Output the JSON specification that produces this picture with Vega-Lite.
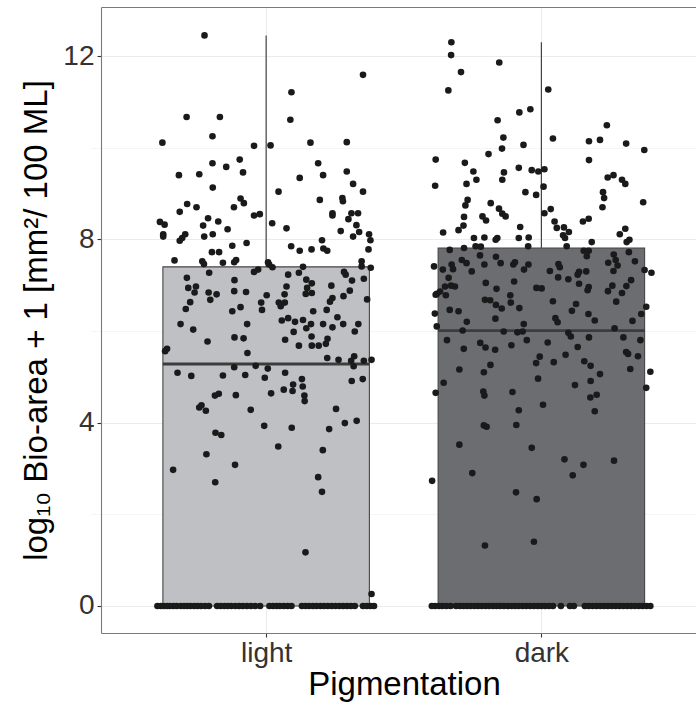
{
  "$schema": "https://vega.github.io/schema/vega-lite/v6.json",
  "width": 595,
  "height": 626,
  "autosize": {"type": "none"},
  "padding": {"left": 101, "top": 7, "right": 0, "bottom": 72},
  "background": "white",
  "config": {
    "view": {"stroke": null},
    "font": "Liberation Sans",
    "axis": {"domainColor": "#7a7a7a", "domainWidth": 1.1, "tickColor": "#333333", "tickWidth": 1.1, "gridColor": "#ebebeb", "gridWidth": 1.1}
  },
  "resolve": {"axis": {"x": "independent", "y": "independent"}},
  "datasets": {
    "summary": [
      {"group": "light", "min": 0, "q1": 0, "median": 5.28, "q3": 7.4, "max": 12.45},
      {"group": "dark", "min": 0, "q1": 0, "median": 6.01, "q3": 7.81, "max": 12.3}
    ],
    "points": [
      {"group":"light","value":12.45,"jitter":-0.224},{"group":"light","value":11.59,"jitter":0.352},{"group":"light","value":11.21,"jitter":0.092},{"group":"light","value":10.67,"jitter":-0.289},{"group":"light","value":10.67,"jitter":-0.168},{"group":"light","value":10.61,"jitter":0.088},{"group":"light","value":10.25,"jitter":-0.195},{"group":"light","value":10.11,"jitter":-0.377},{"group":"light","value":10.04,"jitter":-0.044},{"group":"light","value":10.05,"jitter":0.016},{"group":"light","value":10.11,"jitter":0.161},{"group":"light","value":10.12,"jitter":0.293},{"group":"light","value":9.66,"jitter":-0.195},{"group":"light","value":9.58,"jitter":-0.145},{"group":"light","value":9.74,"jitter":-0.096},{"group":"light","value":9.66,"jitter":0.189},{"group":"light","value":9.48,"jitter":0.293},{"group":"light","value":9.46,"jitter":-0.084},{"group":"light","value":9.42,"jitter":-0.243},{"group":"light","value":9.4,"jitter":-0.317},{"group":"light","value":9.4,"jitter":0.207},
      {"group":"light","value":9.34,"jitter":0.122},{"group":"light","value":9.13,"jitter":-0.194},{"group":"light","value":9.04,"jitter":0.045},{"group":"light","value":9.21,"jitter":0.316},{"group":"light","value":9.04,"jitter":0.352},{"group":"light","value":8.86,"jitter":0.195},{"group":"light","value":8.9,"jitter":0.277},{"group":"light","value":8.83,"jitter":0.279},{"group":"light","value":8.77,"jitter":-0.287},{"group":"light","value":8.7,"jitter":-0.253},{"group":"light","value":8.89,"jitter":-0.093},{"group":"light","value":8.79,"jitter":-0.081},{"group":"light","value":8.7,"jitter":-0.117},{"group":"light","value":8.6,"jitter":-0.314},{"group":"light","value":8.57,"jitter":0.241},{"group":"light","value":8.52,"jitter":0.241},{"group":"light","value":8.57,"jitter":0.31},{"group":"light","value":8.57,"jitter":0.334},{"group":"light","value":8.44,"jitter":0.299},{"group":"light","value":8.46,"jitter":-0.211},{"group":"light","value":8.39,"jitter":-0.174},{"group":"light","value":8.3,"jitter":-0.229},{"group":"light","value":8.38,"jitter":-0.386},{"group":"light","value":8.32,"jitter":-0.369},{"group":"light","value":8.11,"jitter":-0.374},{"group":"light","value":8.06,"jitter":-0.374},{"group":"light","value":8.22,"jitter":-0.14},{"group":"light","value":8.52,"jitter":-0.044},{"group":"light","value":8.55,"jitter":-0.023},{"group":"light","value":8.35,"jitter":0.022},{"group":"light","value":8.24,"jitter":0.074},{"group":"light","value":8.31,"jitter":0.328},{"group":"light","value":8.18,"jitter":0.271},{"group":"light","value":8.06,"jitter":0.316},{"group":"light","value":8.16,"jitter":0.338},{"group":"light","value":8.11,"jitter":0.374},{"group":"light","value":7.98,"jitter":0.379},{"group":"light","value":8.11,"jitter":-0.294},{"group":"light","value":8.03,"jitter":-0.305},{"group":"light","value":7.97,"jitter":-0.314},{"group":"light","value":8.06,"jitter":-0.225},{"group":"light","value":8.11,"jitter":-0.194},{"group":"light","value":7.86,"jitter":-0.123},{"group":"light","value":7.92,"jitter":-0.071},{"group":"light","value":7.98,"jitter":0.203},{"group":"light","value":7.85,"jitter":0.091},{"group":"light","value":7.75,"jitter":0.122},{"group":"light","value":7.78,"jitter":0.165},{"group":"light","value":7.8,"jitter":0.208},{"group":"light","value":7.75,"jitter":0.222},{"group":"light","value":7.78,"jitter":0.372},{"group":"light","value":7.54,"jitter":-0.333},{"group":"light","value":7.72,"jitter":-0.197},{"group":"light","value":7.72,"jitter":-0.171},{"group":"light","value":7.52,"jitter":-0.232},{"group":"light","value":7.46,"jitter":-0.226},{"group":"light","value":7.49,"jitter":-0.157},{"group":"light","value":7.5,"jitter":-0.116},{"group":"light","value":7.55,"jitter":-0.109},{"group":"light","value":7.5,"jitter":0.007},{"group":"light","value":7.45,"jitter":0.011},{"group":"light","value":7.39,"jitter":0.023},{"group":"light","value":7.52,"jitter":0.347},{"group":"light","value":7.41,"jitter":0.347},{"group":"light","value":7.38,"jitter":0.38},{"group":"light","value":7.34,"jitter":-0.029},{"group":"light","value":7.29,"jitter":-0.044},{"group":"light","value":7.27,"jitter":-0.207},{"group":"light","value":7.16,"jitter":-0.288},{"group":"light","value":7.11,"jitter":-0.115},{"group":"light","value":7.23,"jitter":0.08},{"group":"light","value":7.27,"jitter":0.119},{"group":"light","value":7.4,"jitter":0.134},{"group":"light","value":7.12,"jitter":0.146},{"group":"light","value":7.04,"jitter":0.166},{"group":"light","value":6.94,"jitter":0.149},{"group":"light","value":6.83,"jitter":0.166},{"group":"light","value":6.81,"jitter":0.144},{"group":"light","value":7.29,"jitter":0.283},{"group":"light","value":7.23,"jitter":0.289},{"group":"light","value":7.1,"jitter":0.312},{"group":"light","value":7.14,"jitter":0.355},{"group":"light","value":6.99,"jitter":0.237},{"group":"light","value":6.94,"jitter":-0.283},{"group":"light","value":6.97,"jitter":-0.255},{"group":"light","value":6.84,"jitter":-0.26},{"group":"light","value":6.84,"jitter":-0.209},{"group":"light","value":6.8,"jitter":-0.18},{"group":"light","value":6.87,"jitter":-0.116},{"group":"light","value":6.85,"jitter":-0.073},{"group":"light","value":6.97,"jitter":0.074},{"group":"light","value":6.8,"jitter":0.067},{"group":"light","value":6.78,"jitter":0.002},{"group":"light","value":6.88,"jitter":0.304},{"group":"light","value":6.76,"jitter":0.281},{"group":"light","value":6.72,"jitter":0.241},{"group":"light","value":6.64,"jitter":0.232},{"group":"light","value":6.69,"jitter":0.367},{"group":"light","value":6.68,"jitter":-0.203},{"group":"light","value":6.63,"jitter":-0.276},{"group":"light","value":6.48,"jitter":-0.292},{"group":"light","value":6.62,"jitter":-0.018},{"group":"light","value":6.46,"jitter":-0.015},{"group":"light","value":6.62,"jitter":0.046},{"group":"light","value":6.54,"jitter":0.053},{"group":"light","value":6.62,"jitter":0.068},{"group":"light","value":6.52,"jitter":-0.093},{"group":"light","value":6.43,"jitter":-0.123},{"group":"light","value":6.43,"jitter":0.171},{"group":"light","value":6.46,"jitter":0.22},{"group":"light","value":6.3,"jitter":0.259},{"group":"light","value":6.23,"jitter":0.057},{"group":"light","value":6.28,"jitter":0.08},{"group":"light","value":6.2,"jitter":0.105},{"group":"light","value":6.24,"jitter":0.134},{"group":"light","value":6.15,"jitter":-0.311},{"group":"light","value":6.15,"jitter":-0.069},{"group":"light","value":6.15,"jitter":0.163},{"group":"light","value":6.15,"jitter":0.207},{"group":"light","value":6.15,"jitter":0.28},{"group":"light","value":6.15,"jitter":0.335},
      {"group":"light","value":6.03,"jitter":-0.265},{"group":"light","value":5.98,"jitter":0.1},{"group":"light","value":6.06,"jitter":0.146},{"group":"light","value":6.08,"jitter":0.241},{"group":"light","value":5.99,"jitter":0.322},{"group":"light","value":5.77,"jitter":-0.213},{"group":"light","value":5.86,"jitter":-0.115},{"group":"light","value":5.84,"jitter":-0.082},{"group":"light","value":5.81,"jitter":0.069},{"group":"light","value":5.88,"jitter":0.165},{"group":"light","value":5.83,"jitter":0.223},{"group":"light","value":5.72,"jitter":0.217},{"group":"light","value":5.68,"jitter":0.119},{"group":"light","value":5.68,"jitter":0.166},{"group":"light","value":5.68,"jitter":0.191},{"group":"light","value":5.52,"jitter":-0.068},{"group":"light","value":5.56,"jitter":-0.367},{"group":"light","value":5.61,"jitter":-0.36},{"group":"light","value":5.41,"jitter":0.222},{"group":"light","value":5.37,"jitter":0.263},{"group":"light","value":5.35,"jitter":0.309},{"group":"light","value":5.45,"jitter":0.32},{"group":"light","value":5.23,"jitter":0.318},{"group":"light","value":5.35,"jitter":0.355},{"group":"light","value":5.37,"jitter":0.383},{"group":"light","value":5.09,"jitter":-0.322},{"group":"light","value":5.02,"jitter":-0.272},{"group":"light","value":5.03,"jitter":-0.157},{"group":"light","value":5.21,"jitter":-0.116},{"group":"light","value":5.04,"jitter":-0.076},{"group":"light","value":5.24,"jitter":-0.038},{"group":"light","value":5.18,"jitter":0.006},{"group":"light","value":4.98,"jitter":-0.005},{"group":"light","value":5.09,"jitter":0.069},{"group":"light","value":4.95,"jitter":0.13},{"group":"light","value":4.83,"jitter":0.098},{"group":"light","value":4.79,"jitter":0.133},{"group":"light","value":4.69,"jitter":0.096},{"group":"light","value":4.72,"jitter":0.064},{"group":"light","value":4.64,"jitter":0.018},{"group":"light","value":4.59,"jitter":0.139},{"group":"light","value":4.47,"jitter":0.14},{"group":"light","value":4.91,"jitter":0.311},{"group":"light","value":4.95,"jitter":0.351},{"group":"light","value":4.59,"jitter":-0.186},{"group":"light","value":4.63,"jitter":-0.172},{"group":"light","value":4.6,"jitter":-0.11},{"group":"light","value":4.33,"jitter":-0.243},{"group":"light","value":4.38,"jitter":-0.235},{"group":"light","value":4.26,"jitter":-0.219},{"group":"light","value":4.28,"jitter":-0.056},{"group":"light","value":4.3,"jitter":0.254},{"group":"light","value":3.99,"jitter":0.286},{"group":"light","value":4.04,"jitter":0.329},{"group":"light","value":3.86,"jitter":0.229},{"group":"light","value":3.89,"jitter":0.093},{"group":"light","value":3.93,"jitter":-0.007},{"group":"light","value":3.78,"jitter":-0.184},{"group":"light","value":3.73,"jitter":-0.163},{"group":"light","value":3.31,"jitter":-0.217},{"group":"light","value":3.48,"jitter":0.044},{"group":"light","value":3.4,"jitter":0.206},{"group":"light","value":2.97,"jitter":-0.338},{"group":"light","value":3.08,"jitter":-0.113},
      {"group":"light","value":2.81,"jitter":0.189},{"group":"light","value":2.7,"jitter":-0.185},{"group":"light","value":2.49,"jitter":0.203},{"group":"light","value":1.17,"jitter":0.143},{"group":"light","value":0.26,"jitter":0.383},
      {"group":"light","value":0,"jitter":-0.395},{"group":"light","value":0,"jitter":-0.383},{"group":"light","value":0,"jitter":-0.372},{"group":"light","value":0,"jitter":-0.36},{"group":"light","value":0,"jitter":-0.35},{"group":"light","value":0,"jitter":-0.337},{"group":"light","value":0,"jitter":-0.325},{"group":"light","value":0,"jitter":-0.31},{"group":"light","value":0,"jitter":-0.298},{"group":"light","value":0,"jitter":-0.287},{"group":"light","value":0,"jitter":-0.275},{"group":"light","value":0,"jitter":-0.262},{"group":"light","value":0,"jitter":-0.25},{"group":"light","value":0,"jitter":-0.237},{"group":"light","value":0,"jitter":-0.222},{"group":"light","value":0,"jitter":-0.208},{"group":"light","value":0,"jitter":-0.178},{"group":"light","value":0,"jitter":-0.165},{"group":"light","value":0,"jitter":-0.152},{"group":"light","value":0,"jitter":-0.14},{"group":"light","value":0,"jitter":-0.127},{"group":"light","value":0,"jitter":-0.112},{"group":"light","value":0,"jitter":-0.098},{"group":"light","value":0,"jitter":-0.085},{"group":"light","value":0,"jitter":-0.07},{"group":"light","value":0,"jitter":-0.055},{"group":"light","value":0,"jitter":-0.04},{"group":"light","value":0,"jitter":-0.022},{"group":"light","value":0,"jitter":0.012},{"group":"light","value":0,"jitter":0.025},{"group":"light","value":0,"jitter":0.038},{"group":"light","value":0,"jitter":0.05},{"group":"light","value":0,"jitter":0.064},{"group":"light","value":0,"jitter":0.078},{"group":"light","value":0,"jitter":0.092},{"group":"light","value":0,"jitter":0.13},{"group":"light","value":0,"jitter":0.143},{"group":"light","value":0,"jitter":0.156},{"group":"light","value":0,"jitter":0.17},{"group":"light","value":0,"jitter":0.183},{"group":"light","value":0,"jitter":0.197},{"group":"light","value":0,"jitter":0.21},{"group":"light","value":0,"jitter":0.224},{"group":"light","value":0,"jitter":0.238},{"group":"light","value":0,"jitter":0.252},{"group":"light","value":0,"jitter":0.266},{"group":"light","value":0,"jitter":0.28},{"group":"light","value":0,"jitter":0.294},{"group":"light","value":0,"jitter":0.308},{"group":"light","value":0,"jitter":0.322},{"group":"light","value":0,"jitter":0.352},{"group":"light","value":0,"jitter":0.366},{"group":"light","value":0,"jitter":0.379},{"group":"light","value":0,"jitter":0.392},
      {"group":"dark","value":12.3,"jitter":-0.327},{"group":"dark","value":12.02,"jitter":-0.328},{"group":"dark","value":11.86,"jitter":-0.153},{"group":"dark","value":11.65,"jitter":-0.292},{"group":"dark","value":11.25,"jitter":-0.338},{"group":"dark","value":11.27,"jitter":0.025},{"group":"dark","value":10.84,"jitter":-0.04},{"group":"dark","value":10.77,"jitter":-0.08},{"group":"dark","value":10.6,"jitter":-0.159},{"group":"dark","value":10.49,"jitter":0.238},{"group":"dark","value":10.22,"jitter":-0.138},{"group":"dark","value":10.2,"jitter":0.042},{"group":"dark","value":10.14,"jitter":0.173},{"group":"dark","value":10.17,"jitter":0.213},{"group":"dark","value":10.09,"jitter":0.308},{"group":"dark","value":9.95,"jitter":0.374},{"group":"dark","value":9.98,"jitter":-0.143},{"group":"dark","value":10.06,"jitter":-0.065},{"group":"dark","value":9.86,"jitter":-0.192},{"group":"dark","value":9.74,"jitter":-0.384},{"group":"dark","value":9.67,"jitter":-0.278},{"group":"dark","value":9.73,"jitter":0.173},{"group":"dark","value":9.48,"jitter":-0.247},{"group":"dark","value":9.46,"jitter":-0.136},{"group":"dark","value":9.56,"jitter":-0.082},{"group":"dark","value":9.51,"jitter":-0.035},{"group":"dark","value":9.48,"jitter":-0.011},{"group":"dark","value":9.53,"jitter":0.011},{"group":"dark","value":9.4,"jitter":0.262},
      {"group":"dark","value":9.17,"jitter":-0.386},{"group":"dark","value":9.21,"jitter":-0.272},{"group":"dark","value":9.3,"jitter":-0.236},{"group":"dark","value":9.3,"jitter":-0.142},{"group":"dark","value":9.03,"jitter":-0.058},{"group":"dark","value":8.97,"jitter":-0.019},{"group":"dark","value":9.15,"jitter":0.008},{"group":"dark","value":9.35,"jitter":0.241},{"group":"dark","value":9.3,"jitter":0.293},{"group":"dark","value":9.21,"jitter":0.305},{"group":"dark","value":9.03,"jitter":0.224},{"group":"dark","value":8.9,"jitter":0.228},{"group":"dark","value":8.7,"jitter":0.222},{"group":"dark","value":8.81,"jitter":0.37},{"group":"dark","value":8.86,"jitter":-0.268},{"group":"dark","value":8.74,"jitter":-0.276},{"group":"dark","value":8.79,"jitter":-0.184},{"group":"dark","value":8.67,"jitter":-0.154},{"group":"dark","value":8.56,"jitter":-0.142},{"group":"dark","value":8.5,"jitter":-0.13},{"group":"dark","value":8.49,"jitter":-0.281},{"group":"dark","value":8.3,"jitter":-0.283},{"group":"dark","value":8.2,"jitter":-0.301},{"group":"dark","value":8.5,"jitter":-0.214},{"group":"dark","value":8.41,"jitter":-0.201},{"group":"dark","value":8.27,"jitter":-0.077},{"group":"dark","value":8.57,"jitter":0.011},{"group":"dark","value":8.66,"jitter":0.034},{"group":"dark","value":8.39,"jitter":0.048},{"group":"dark","value":8.25,"jitter":0.056},{"group":"dark","value":8.26,"jitter":0.082},{"group":"dark","value":8.09,"jitter":0.079},{"group":"dark","value":8.03,"jitter":0.086},{"group":"dark","value":8.16,"jitter":0.1},{"group":"dark","value":8.39,"jitter":0.151},{"group":"dark","value":8.45,"jitter":0.172},{"group":"dark","value":7.94,"jitter":0.183},{"group":"dark","value":8.11,"jitter":0.285},{"group":"dark","value":8.23,"jitter":0.305},{"group":"dark","value":7.94,"jitter":0.31},{"group":"dark","value":7.99,"jitter":0.32},{"group":"dark","value":8.15,"jitter":-0.357},{"group":"dark","value":8.03,"jitter":-0.245},{"group":"dark","value":8.04,"jitter":-0.207},{"group":"dark","value":8.03,"jitter":-0.16},{"group":"dark","value":7.99,"jitter":-0.166},{"group":"dark","value":8.03,"jitter":-0.082},{"group":"dark","value":8.04,"jitter":-0.046},{"group":"dark","value":7.85,"jitter":-0.048},{"group":"dark","value":7.85,"jitter":0.092},{"group":"dark","value":7.81,"jitter":-0.281},{"group":"dark","value":7.77,"jitter":-0.333},{"group":"dark","value":7.85,"jitter":-0.239},{"group":"dark","value":7.84,"jitter":-0.22},{"group":"dark","value":7.75,"jitter":0.154},{"group":"dark","value":7.75,"jitter":0.172},{"group":"dark","value":7.63,"jitter":0.165},{"group":"dark","value":7.72,"jitter":0.318},{"group":"dark","value":7.67,"jitter":0.263},{"group":"dark","value":7.55,"jitter":0.27},{"group":"dark","value":7.43,"jitter":0.277},{"group":"dark","value":7.31,"jitter":0.262},{"group":"dark","value":7.49,"jitter":0.243},{"group":"dark","value":7.52,"jitter":0.34},{"group":"dark","value":7.33,"jitter":0.375},{"group":"dark","value":7.27,"jitter":0.4},{"group":"dark","value":7.41,"jitter":-0.39},{"group":"dark","value":7.34,"jitter":-0.358},{"group":"dark","value":7.45,"jitter":-0.326},{"group":"dark","value":7.35,"jitter":-0.321},{"group":"dark","value":7.55,"jitter":-0.289},{"group":"dark","value":7.48,"jitter":-0.272},{"group":"dark","value":7.3,"jitter":-0.253},{"group":"dark","value":7.65,"jitter":-0.223},{"group":"dark","value":7.45,"jitter":-0.207},{"group":"dark","value":7.62,"jitter":-0.165},{"group":"dark","value":7.48,"jitter":-0.148},{"group":"dark","value":7.45,"jitter":-0.102},{"group":"dark","value":7.5,"jitter":-0.096},{"group":"dark","value":7.34,"jitter":-0.063},{"group":"dark","value":7.45,"jitter":-0.047},{"group":"dark","value":7.31,"jitter":0.031},{"group":"dark","value":7.46,"jitter":0.062},{"group":"dark","value":7.39,"jitter":0.067},{"group":"dark","value":7.17,"jitter":0.061},{"group":"dark","value":7.13,"jitter":0.098},{"group":"dark","value":7.29,"jitter":0.137},{"group":"dark","value":7.23,"jitter":0.132},{"group":"dark","value":7.3,"jitter":0.163},{"group":"dark","value":7.03,"jitter":0.137},{"group":"dark","value":6.96,"jitter":0.172},{"group":"dark","value":6.89,"jitter":0.168},{"group":"dark","value":6.99,"jitter":0.258},{"group":"dark","value":6.87,"jitter":0.242},{"group":"dark","value":6.98,"jitter":0.309},{"group":"dark","value":7.11,"jitter":0.326},{"group":"dark","value":6.83,"jitter":0.293},{"group":"dark","value":7.16,"jitter":-0.337},{"group":"dark","value":6.97,"jitter":-0.35},{"group":"dark","value":6.99,"jitter":-0.328},{"group":"dark","value":6.97,"jitter":-0.314},{"group":"dark","value":6.78,"jitter":-0.347},{"group":"dark","value":6.86,"jitter":-0.368},{"group":"dark","value":6.81,"jitter":-0.38},{"group":"dark","value":6.79,"jitter":-0.384},{"group":"dark","value":7.05,"jitter":-0.202},{"group":"dark","value":6.92,"jitter":-0.163},{"group":"dark","value":7.08,"jitter":-0.099},{"group":"dark","value":6.94,"jitter":-0.018},{"group":"dark","value":6.93,"jitter":0.001},{"group":"dark","value":6.78,"jitter":-0.113},{"group":"dark","value":6.62,"jitter":-0.111},{"group":"dark","value":6.68,"jitter":-0.205},{"group":"dark","value":6.67,"jitter":-0.186},{"group":"dark","value":6.57,"jitter":-0.165},{"group":"dark","value":6.49,"jitter":-0.144},{"group":"dark","value":6.5,"jitter":-0.08},{"group":"dark","value":6.65,"jitter":0.042},{"group":"dark","value":6.59,"jitter":0.126},{"group":"dark","value":6.44,"jitter":0.111},{"group":"dark","value":6.64,"jitter":0.272},{"group":"dark","value":6.53,"jitter":0.381},{"group":"dark","value":6.37,"jitter":0.363},{"group":"dark","value":6.38,"jitter":-0.387},{"group":"dark","value":6.46,"jitter":-0.333},{"group":"dark","value":6.43,"jitter":-0.301},{"group":"dark","value":6.2,"jitter":-0.271},{"group":"dark","value":6.27,"jitter":-0.167},{"group":"dark","value":6.15,"jitter":-0.064},{"group":"dark","value":6.28,"jitter":0.051},{"group":"dark","value":6.19,"jitter":0.059},{"group":"dark","value":6.37,"jitter":0.171},{"group":"dark","value":6.23,"jitter":0.194},{"group":"dark","value":6.22,"jitter":0.331},
      {"group":"dark","value":6.1,"jitter":-0.38},{"group":"dark","value":6.01,"jitter":-0.286},{"group":"dark","value":5.99,"jitter":-0.137},{"group":"dark","value":5.97,"jitter":-0.087},{"group":"dark","value":5.99,"jitter":-0.068},{"group":"dark","value":5.96,"jitter":0.098},{"group":"dark","value":5.88,"jitter":0.107},{"group":"dark","value":5.86,"jitter":0.173},{"group":"dark","value":6.06,"jitter":0.266},{"group":"dark","value":5.86,"jitter":0.298},{"group":"dark","value":5.8,"jitter":0.36},{"group":"dark","value":5.8,"jitter":-0.343},{"group":"dark","value":5.61,"jitter":-0.282},{"group":"dark","value":5.74,"jitter":-0.222},{"group":"dark","value":5.64,"jitter":-0.203},{"group":"dark","value":5.59,"jitter":-0.168},{"group":"dark","value":5.69,"jitter":-0.109},{"group":"dark","value":5.8,"jitter":-0.053},{"group":"dark","value":5.75,"jitter":0.023},{"group":"dark","value":5.65,"jitter":0.132},{"group":"dark","value":5.48,"jitter":0.088},{"group":"dark","value":5.44,"jitter":-0.006},{"group":"dark","value":5.3,"jitter":-0.019},{"group":"dark","value":5.32,"jitter":0.045},{"group":"dark","value":5.34,"jitter":0.156},{"group":"dark","value":5.24,"jitter":0.179},{"group":"dark","value":5.06,"jitter":0.213},{"group":"dark","value":5.54,"jitter":0.308},{"group":"dark","value":5.5,"jitter":0.315},{"group":"dark","value":5.45,"jitter":0.351},{"group":"dark","value":5.17,"jitter":0.323},{"group":"dark","value":5.11,"jitter":0.396},{"group":"dark","value":4.76,"jitter":0.381},{"group":"dark","value":5.16,"jitter":-0.298},{"group":"dark","value":4.87,"jitter":-0.355},{"group":"dark","value":4.65,"jitter":-0.384},{"group":"dark","value":5.1,"jitter":-0.209},{"group":"dark","value":5.26,"jitter":-0.185},{"group":"dark","value":4.68,"jitter":-0.211},{"group":"dark","value":4.59,"jitter":-0.207},{"group":"dark","value":4.67,"jitter":-0.105},{"group":"dark","value":4.96,"jitter":-0.012},{"group":"dark","value":4.82,"jitter":0.122},{"group":"dark","value":4.91,"jitter":0.179},{"group":"dark","value":4.61,"jitter":0.201},{"group":"dark","value":4.55,"jitter":0.178},{"group":"dark","value":4.39,"jitter":0.006},{"group":"dark","value":4.27,"jitter":-0.082},{"group":"dark","value":4.25,"jitter":0.194},{"group":"dark","value":3.94,"jitter":-0.209},{"group":"dark","value":3.91,"jitter":-0.199},{"group":"dark","value":3.95,"jitter":-0.091},{"group":"dark","value":3.52,"jitter":-0.298},{"group":"dark","value":3.45,"jitter":-0.035},{"group":"dark","value":3.2,"jitter":0.084},{"group":"dark","value":3.08,"jitter":0.153},{"group":"dark","value":3.17,"jitter":0.264},{"group":"dark","value":2.9,"jitter":-0.251},{"group":"dark","value":2.85,"jitter":0.114},
      {"group":"dark","value":2.73,"jitter":-0.397},{"group":"dark","value":2.48,"jitter":-0.092},{"group":"dark","value":2.33,"jitter":-0.017},{"group":"dark","value":1.32,"jitter":-0.205},{"group":"dark","value":1.4,"jitter":-0.027},
      {"group":"dark","value":0,"jitter":-0.398},{"group":"dark","value":0,"jitter":-0.386},{"group":"dark","value":0,"jitter":-0.372},{"group":"dark","value":0,"jitter":-0.36},{"group":"dark","value":0,"jitter":-0.345},{"group":"dark","value":0,"jitter":-0.33},{"group":"dark","value":0,"jitter":-0.31},{"group":"dark","value":0,"jitter":-0.296},{"group":"dark","value":0,"jitter":-0.283},{"group":"dark","value":0,"jitter":-0.27},{"group":"dark","value":0,"jitter":-0.257},{"group":"dark","value":0,"jitter":-0.243},{"group":"dark","value":0,"jitter":-0.23},{"group":"dark","value":0,"jitter":-0.217},{"group":"dark","value":0,"jitter":-0.203},{"group":"dark","value":0,"jitter":-0.19},{"group":"dark","value":0,"jitter":-0.176},{"group":"dark","value":0,"jitter":-0.163},{"group":"dark","value":0,"jitter":-0.15},{"group":"dark","value":0,"jitter":-0.136},{"group":"dark","value":0,"jitter":-0.122},{"group":"dark","value":0,"jitter":-0.108},{"group":"dark","value":0,"jitter":-0.095},{"group":"dark","value":0,"jitter":-0.082},{"group":"dark","value":0,"jitter":-0.068},{"group":"dark","value":0,"jitter":-0.055},{"group":"dark","value":0,"jitter":-0.041},{"group":"dark","value":0,"jitter":-0.027},{"group":"dark","value":0,"jitter":-0.013},{"group":"dark","value":0,"jitter":0.0},{"group":"dark","value":0,"jitter":0.014},{"group":"dark","value":0,"jitter":0.028},{"group":"dark","value":0,"jitter":0.042},{"group":"dark","value":0,"jitter":0.071},{"group":"dark","value":0,"jitter":0.104},{"group":"dark","value":0,"jitter":0.118},{"group":"dark","value":0,"jitter":0.158},{"group":"dark","value":0,"jitter":0.172},{"group":"dark","value":0,"jitter":0.186},{"group":"dark","value":0,"jitter":0.2},{"group":"dark","value":0,"jitter":0.214},{"group":"dark","value":0,"jitter":0.228},{"group":"dark","value":0,"jitter":0.242},{"group":"dark","value":0,"jitter":0.256},{"group":"dark","value":0,"jitter":0.27},{"group":"dark","value":0,"jitter":0.284},{"group":"dark","value":0,"jitter":0.298},{"group":"dark","value":0,"jitter":0.312},{"group":"dark","value":0,"jitter":0.326},{"group":"dark","value":0,"jitter":0.34},{"group":"dark","value":0,"jitter":0.354},{"group":"dark","value":0,"jitter":0.368},{"group":"dark","value":0,"jitter":0.382},{"group":"dark","value":0,"jitter":0.396}
    ]
  },
  "layer": [
    {
      "data": {"name": "summary"},
      "mark": {"type": "rule", "color": "#333333", "strokeWidth": 1.1},
      "encoding": {
        "x": {"field": "group", "type": "nominal", "scale": {"type": "point", "domain": ["light", "dark"], "range": [0, 605.5], "padding": 0.6},
          "axis": {"orient": "bottom", "title": "Pigmentation", "labelAngle": 0, "labelFontSize": 28, "labelColor": "#333333", "labelPadding": 2, "tickSize": 4, "titleFontSize": 33, "titleFontWeight": "normal", "titleColor": "#000000", "titlePadding": 1, "titleX": 303, "grid": true, "domain": true}},
        "y": {"field": "q3", "type": "quantitative", "scale": {"domain": [-0.59, 13.07], "nice": false, "zero": false},
          "axis": {"orient": "left", "title": "log₁₀ Bio-area + 1 [mm²/ 100 ML]", "values": [0, 4, 8, 12], "labelFontSize": 28, "labelColor": "#333333", "labelPadding": 3, "tickSize": 4, "titleFontSize": 33, "titleFontWeight": "normal", "titleColor": "#000000", "titlePadding": 9, "grid": true, "domain": true}},
        "y2": {"field": "max"}
      }
    },
    {
      "data": {"name": "summary"},
      "mark": {"type": "bar", "size": 206.5, "stroke": "#454545", "strokeWidth": 1.1},
      "encoding": {
        "x": {"field": "group", "type": "nominal", "axis": null},
        "y": {"field": "q1", "type": "quantitative", "axis": null},
        "y2": {"field": "q3"},
        "fill": {"field": "group", "type": "nominal", "scale": {"domain": ["light", "dark"], "range": ["#bfc0c4", "#6c6d71"]}, "legend": null}
      }
    },
    {
      "data": {"name": "summary"},
      "mark": {"type": "tick", "size": 206.5, "thickness": 2.8, "color": "#3c3c3c", "opacity": 1},
      "encoding": {
        "x": {"field": "group", "type": "nominal", "axis": null},
        "y": {"field": "median", "type": "quantitative", "axis": null}
      }
    },
    {
      "data": {"name": "points"},
      "mark": {"type": "circle", "size": 44, "color": "#1a1a1a", "opacity": 1},
      "encoding": {
        "x": {"field": "group", "type": "nominal",
          "axis": {"orient": "top", "title": null, "labels": false, "ticks": false, "grid": false, "domain": true}},
        "xOffset": {"field": "jitter", "type": "quantitative", "scale": {"domain": [-0.5, 0.5], "range": [-137.6, 137.6]}},
        "y": {"field": "value", "type": "quantitative",
          "axis": {"orient": "right", "title": null, "labels": false, "ticks": false, "domain": false, "grid": true, "values": [2, 6, 10], "gridWidth": 0.6, "gridColor": "#efefef"}}
      }
    }
  ]
}
